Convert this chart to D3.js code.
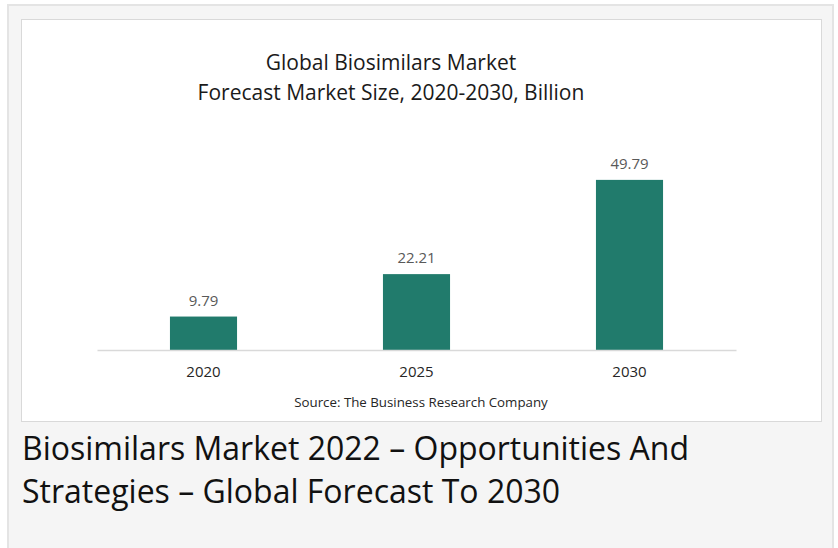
<!DOCTYPE html>
<html>
<head>
<meta charset="utf-8">
<script src="https://cdn.jsdelivr.net/npm/d3@7"></script>
<style>
  body { margin: 0; background: #ffffff; }
  text { font-family: "Open Sans", sans-serif; }
</style>
</head>
<body>
<div id="chart"></div>
<script>
// Data
const YEARS = ["2020", "2025", "2030"];
const VALUES = [9.79, 22.21, 49.79];
const TITLE_LINES = ["Global Biosimilars Market", "Forecast Market Size, 2020-2030, Billion"];
const SOURCE = "Source: The Business Research Company";
const CAPTION_LINES = ["Biosimilars Market 2022 \u2013 Opportunities And", "Strategies \u2013 Global Forecast To 2030"];

const FRAME_WIDTH = 838;
const FRAME_HEIGHT = 548;
const PLOT = {left: 97, right: 736, top: 145, bottom: 350};

const FRAME = d3.select("#chart")
                .append("svg")
                  .attr("width", FRAME_WIDTH)
                  .attr("height", FRAME_HEIGHT);

// outer grey panel
FRAME.append("rect")
      .attr("x", 8).attr("y", 5)
      .attr("width", 825).attr("height", 560)
      .attr("fill", "#f5f5f5")
      .attr("stroke", "#e4e4e4")
      .attr("stroke-width", 2);

// white chart box
FRAME.append("rect")
      .attr("x", 21.5).attr("y", 19.5)
      .attr("width", 800).attr("height", 402)
      .attr("fill", "#ffffff")
      .attr("stroke", "#d9d9d9")
      .attr("stroke-width", 1);

// scales
const X_SCALE = d3.scaleBand()
                  .domain(YEARS)
                  .range([PLOT.left, PLOT.right])
                  .paddingInner(0.685)
                  .paddingOuter(0.3425);

const Y_SCALE = d3.scaleLinear()
                  .domain([0, 60])
                  .range([PLOT.bottom, PLOT.top]);

// bars
FRAME.selectAll(".bar")
      .data(VALUES)
      .enter().append("rect")
        .attr("class", "bar")
        .attr("x", (d, i) => X_SCALE(YEARS[i]))
        .attr("y", d => Y_SCALE(d))
        .attr("width", X_SCALE.bandwidth())
        .attr("height", d => PLOT.bottom - Y_SCALE(d))
        .attr("fill", "#217b6c");

// value labels
FRAME.selectAll(".val")
      .data(VALUES)
      .enter().append("text")
        .attr("class", "val")
        .attr("x", (d, i) => X_SCALE(YEARS[i]) + X_SCALE.bandwidth() / 2)
        .attr("y", d => Y_SCALE(d) - 11)
        .attr("text-anchor", "middle")
        .attr("font-size", 15)
        .attr("fill", "#595959")
        .text(d => d.toFixed(2));

// x axis
const X_AXIS = FRAME.append("g")
      .attr("transform", "translate(0," + PLOT.bottom + ")")
      .call(d3.axisBottom(X_SCALE).tickSize(0).tickPadding(16));
X_AXIS.select(".domain").attr("stroke", "#d9d9d9").attr("stroke-width", 1.5);
X_AXIS.selectAll("text")
      .attr("font-family", "Open Sans, sans-serif")
      .attr("font-size", 15)
      .attr("fill", "#262626");

// title
FRAME.selectAll(".title")
      .data(TITLE_LINES)
      .enter().append("text")
        .attr("class", "title")
        .attr("x", 391)
        .attr("y", (d, i) => 70 + i * 29.5)
        .attr("text-anchor", "middle")
        .attr("font-size", 21)
        .attr("fill", "#1a1a1a")
        .text(d => d);

// source
FRAME.append("text")
      .attr("x", 421).attr("y", 407)
      .attr("text-anchor", "middle")
      .attr("font-size", 13.3)
      .attr("fill", "#262626")
      .text(SOURCE);

// caption under the chart
FRAME.selectAll(".caption")
      .data(CAPTION_LINES)
      .enter().append("text")
        .attr("class", "caption")
        .attr("x", 22)
        .attr("y", (d, i) => 460 + i * 43)
        .attr("font-size", 32)
        .attr("fill", "#111111")
        .text(d => d);
</script>
</body>
</html>
